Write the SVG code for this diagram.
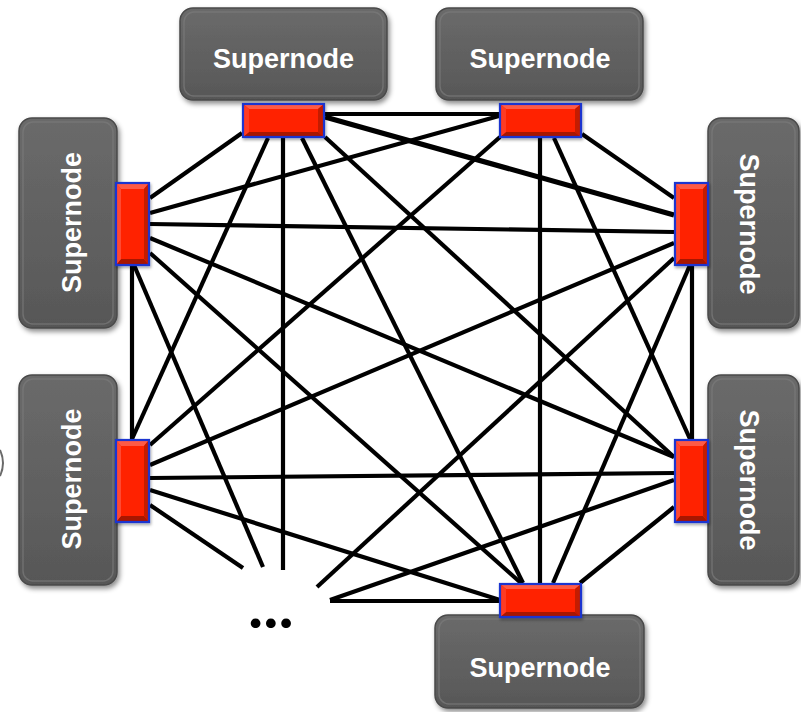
<svg xmlns="http://www.w3.org/2000/svg" xmlns:xlink="http://www.w3.org/1999/xlink" width="801" height="712" viewBox="0 0 801 712">
<style>
.box{fill:url(#boxg);stroke:#4a4a4a;stroke-width:1.5;filter:url(#sh)}
.hl{fill:none;stroke:#7a7a7a;stroke-width:1.5;opacity:0.7}
.lbl{font-family:"Liberation Sans",Arial,sans-serif;font-weight:bold;font-size:27px;fill:#ffffff;text-anchor:middle}
.dots{font-family:Lato,"Liberation Sans",sans-serif;font-weight:bold;font-size:64px;fill:#000000;text-anchor:start;letter-spacing:0px}
#links line{stroke:#000000;stroke-width:4.2;stroke-linecap:butt}
</style>
<defs>
<linearGradient id="boxg" x1="0" y1="0" x2="0" y2="1">
<stop offset="0" stop-color="#6a6a6a"/>
<stop offset="0.5" stop-color="#616161"/>
<stop offset="1" stop-color="#575757"/>
</linearGradient>
<filter id="sh" x="-10%" y="-10%" width="125%" height="125%">
<feDropShadow dx="2" dy="3" stdDeviation="2.5" flood-color="#000000" flood-opacity="0.45"/>
</filter>
<filter id="psh" x="-10%" y="-10%" width="130%" height="130%">
<feDropShadow dx="1" dy="2" stdDeviation="1.5" flood-color="#000000" flood-opacity="0.35"/>
</filter>
<symbol id="porth" viewBox="0 0 83 35" width="83" height="35" overflow="visible">
<rect x="0" y="0" width="83" height="35" fill="#ff2200"/>
<polygon points="1,1 82,1 76,6 7,6" fill="#ff5a45"/>
<polygon points="1,34 82,34 76,29 7,29" fill="#a81400"/>
<polygon points="1,1 7,6 7,29 1,34" fill="#ff3a22"/>
<polygon points="82,1 76,6 76,29 82,34" fill="#c41a00"/>
<rect x="1" y="1" width="81" height="33" fill="none" stroke="#1f35d0" stroke-width="2.2"/>
</symbol>
<symbol id="portv" viewBox="0 0 35 84" width="35" height="84" overflow="visible">
<rect x="0" y="0" width="35" height="84" fill="#ff2200"/>
<polygon points="1,1 34,1 29,7 6,7" fill="#ff5a45"/>
<polygon points="1,83 34,83 29,77 6,77" fill="#a81400"/>
<polygon points="1,1 6,7 6,77 1,83" fill="#ff4a33"/>
<polygon points="34,1 29,7 29,77 34,83" fill="#c41a00"/>
<rect x="1" y="1" width="33" height="82" fill="none" stroke="#1f35d0" stroke-width="2.2"/>
</symbol>
</defs>
<rect x="0" y="0" width="801" height="712" fill="#ffffff"/>
<path d="M0,450 Q6,463 0,476" fill="none" stroke="#6a6a6a" stroke-width="2"/>

<g id="boxes">
<g id="node-tl-box"><rect class="box" x="180" y="8" width="207" height="92" rx="13"/><rect class="hl" x="184" y="12" width="199" height="84" rx="10"/></g>
<g id="node-tr-box"><rect class="box" x="436" y="8" width="207" height="92" rx="13"/><rect class="hl" x="440" y="12" width="199" height="84" rx="10"/></g>
<g id="node-lu-box"><rect class="box" x="19" y="118" width="98" height="210" rx="13"/><rect class="hl" x="23" y="122" width="90" height="202" rx="10"/></g>
<g id="node-ll-box"><rect class="box" x="19" y="375" width="98" height="210" rx="13"/><rect class="hl" x="23" y="379" width="90" height="202" rx="10"/></g>
<g id="node-ru-box"><rect class="box" x="708" y="118" width="91" height="210" rx="13"/><rect class="hl" x="712" y="122" width="83" height="202" rx="10"/></g>
<g id="node-rl-box"><rect class="box" x="708" y="375" width="91" height="210" rx="13"/><rect class="hl" x="712" y="379" width="83" height="202" rx="10"/></g>
<g id="node-b-box"><rect class="box" x="435" y="615" width="209" height="93" rx="13"/><rect class="hl" x="439" y="619" width="201" height="85" rx="10"/></g>
</g>

<g id="links">
<line x1="325" y1="114" x2="499" y2="114"/>
<line x1="325" y1="117" x2="674" y2="215" style="stroke-width:5.2"/>
<line x1="242" y1="133" x2="150" y2="198"/>
<line x1="268" y1="138" x2="132" y2="439"/>
<line x1="283" y1="138" x2="283" y2="570"/>
<line x1="302" y1="138" x2="523" y2="583"/>
<line x1="325" y1="137" x2="674" y2="457"/>
<line x1="499" y1="116" x2="150" y2="213"/>
<line x1="500" y1="137" x2="150" y2="445"/>
<line x1="540" y1="138" x2="540" y2="583"/>
<line x1="554" y1="138" x2="690" y2="439"/>
<line x1="582" y1="134" x2="674" y2="198"/>
<line x1="150" y1="224" x2="674" y2="232"/>
<line x1="150" y1="238" x2="674" y2="457"/>
<line x1="150" y1="253" x2="521" y2="583"/>
<line x1="132" y1="265" x2="132" y2="439"/>
<line x1="134" y1="265" x2="263" y2="567"/>
<line x1="150" y1="465" x2="674" y2="243"/>
<line x1="150" y1="478" x2="674" y2="473"/>
<line x1="150" y1="490" x2="500" y2="600"/>
<line x1="150" y1="505" x2="243" y2="568"/>
<line x1="690" y1="265" x2="553" y2="583"/>
<line x1="674" y1="258" x2="317" y2="587"/>
<line x1="692" y1="265" x2="692" y2="439"/>
<line x1="674" y1="480" x2="330" y2="600"/>
<line x1="674" y1="507" x2="580" y2="583"/>
<line x1="330" y1="601" x2="499" y2="601"/>
</g>

<g id="node-tl"><use xlink:href="#porth" href="#porth" x="242" y="103" filter="url(#psh)"/><text class="lbl" x="283.5" y="68">Supernode</text></g>
<g id="node-tr"><use xlink:href="#porth" href="#porth" x="499" y="103" filter="url(#psh)"/><text class="lbl" x="540" y="68">Supernode</text></g>
<g id="node-lu"><use xlink:href="#portv" href="#portv" x="115" y="182" filter="url(#psh)"/><text class="lbl" transform="translate(81,222.5) rotate(-90)">Supernode</text></g>
<g id="node-ll"><use xlink:href="#portv" href="#portv" x="115" y="439" filter="url(#psh)"/><text class="lbl" transform="translate(81,479) rotate(-90)">Supernode</text></g>
<g id="node-ru"><use xlink:href="#portv" href="#portv" x="674" y="182" filter="url(#psh)"/><text class="lbl" transform="translate(740,224) rotate(90)">Supernode</text></g>
<g id="node-rl"><use xlink:href="#portv" href="#portv" x="674" y="439" filter="url(#psh)"/><text class="lbl" transform="translate(740,480) rotate(90)">Supernode</text></g>
<g id="node-b"><use xlink:href="#porth" href="#porth" x="499" y="583" filter="url(#psh)"/><text class="lbl" x="540" y="677">Supernode</text></g>
<g id="node-more"><text class="dots" x="248" y="628">...</text></g>
</svg>
